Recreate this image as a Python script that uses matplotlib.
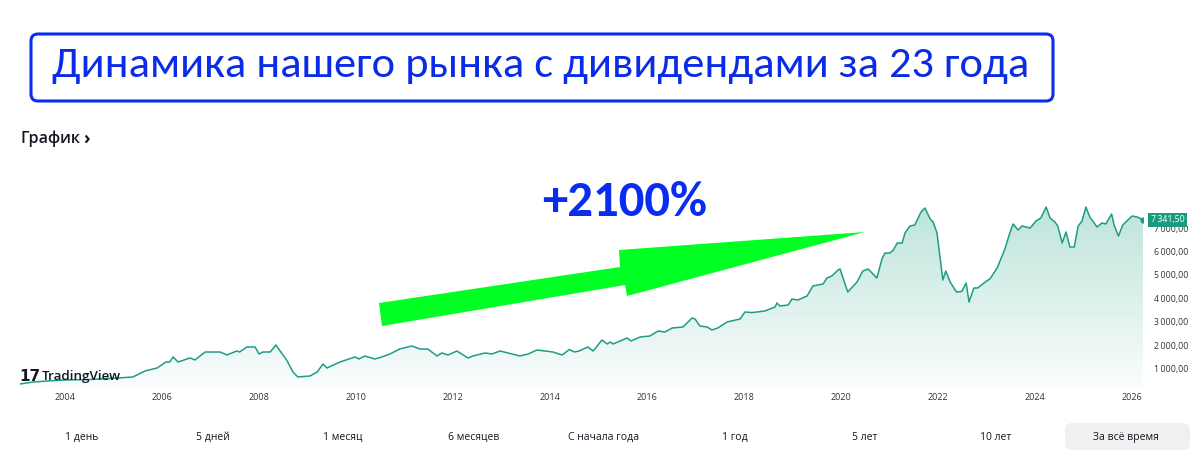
import numpy as np
import matplotlib
matplotlib.use("Agg")
from matplotlib import pyplot as plt
from matplotlib import font_manager
from matplotlib.patches import Polygon, FancyBboxPatch
from matplotlib.transforms import Affine2D
from matplotlib.colors import LinearSegmentedColormap

# index level (total return); x = decimal year
years = [2003.07, 2003.35, 2003.65, 2004.0, 2004.5, 2005.1, 2005.4, 2005.65, 2005.9,
         2006.08, 2006.16, 2006.23, 2006.33, 2006.58, 2006.68, 2006.89, 2007.2, 2007.34,
         2007.54, 2007.6, 2007.75, 2007.92, 2008.0, 2008.08, 2008.23, 2008.35, 2008.45,
         2008.57, 2008.7, 2008.8, 2009.05, 2009.2, 2009.32, 2009.4, 2009.67, 2009.98,
         2010.06, 2010.18, 2010.39, 2010.53, 2010.7, 2010.9, 2011.15, 2011.32, 2011.48,
         2011.67, 2011.77, 2011.9, 2012.08, 2012.31, 2012.41, 2012.66, 2012.8, 2012.97,
         2013.38, 2013.55, 2013.73, 2013.9, 2014.06, 2014.25, 2014.4, 2014.5, 2014.6,
         2014.78, 2014.89, 2015.07, 2015.18, 2015.24, 2015.3, 2015.59, 2015.67, 2015.86,
         2016.06, 2016.23, 2016.37, 2016.52, 2016.74, 2016.93, 2016.99, 2017.09, 2017.24,
         2017.34, 2017.46, 2017.65, 2017.92, 2018.02, 2018.16, 2018.43, 2018.64, 2018.68,
         2018.74, 2018.91, 2018.99, 2019.11, 2019.3, 2019.42, 2019.63, 2019.71, 2019.81,
         2019.94, 2019.98, 2020.14, 2020.33, 2020.45, 2020.56, 2020.74, 2020.85, 2020.91,
         2021.01, 2021.08, 2021.16, 2021.26, 2021.32, 2021.42, 2021.52, 2021.65, 2021.73,
         2021.84, 2021.9, 2021.98, 2022.1, 2022.16, 2022.25, 2022.38, 2022.49, 2022.58,
         2022.64, 2022.74, 2022.82, 2023.0, 2023.07, 2023.22, 2023.38, 2023.48, 2023.55,
         2023.65, 2023.73, 2023.9, 2024.02, 2024.12, 2024.23, 2024.31, 2024.41, 2024.47,
         2024.56, 2024.64, 2024.72, 2024.81, 2024.89, 2024.97, 2025.05, 2025.13, 2025.28,
         2025.38, 2025.46, 2025.58, 2025.63, 2025.72, 2025.81, 2026.0, 2026.11, 2026.23]
index_values = [362, 447, 490, 532, 553, 617, 660, 915, 1043,
                1298, 1298, 1511, 1298, 1468, 1383, 1723, 1723, 1596,
                1766, 1723, 1936, 1936, 1638, 1723, 1723, 2021, 1723,
                1383, 872, 660, 702, 872, 1213, 1043, 1298, 1511,
                1426, 1553, 1426, 1511, 1638, 1851, 1979, 1851, 1851,
                1553, 1681, 1596, 1766, 1468, 1553, 1681, 1638, 1766,
                1553, 1638, 1808, 1766, 1723, 1596, 1830, 1723, 1766,
                1936, 1766, 2234, 2064, 2149, 2064, 2319, 2191, 2362,
                2404, 2617, 2574, 2745, 2787, 3170, 3130, 2830, 2787,
                2660, 2745, 3000, 3128, 3426, 3400, 3468, 3638, 3809,
                3681, 3723, 3979, 3936, 4106, 4532, 4617, 4872, 4957,
                5213, 5255, 4277, 4702, 5170, 5255, 4872, 5723, 5936,
                5936, 6064, 6362, 6362, 6787, 7085, 7128, 7681, 7851,
                7383, 7255, 6787, 4787, 5170, 4702, 4277, 4300, 4660,
                3851, 4447, 4447, 4745, 4830, 5298, 6106, 6787, 7170,
                6915, 7085, 7000, 7298, 7426, 7894, 7426, 7255, 7085,
                6362, 6830, 6191, 6191, 7085, 7298, 7894, 7468, 7043,
                7213, 7170, 7596, 7128, 6660, 7128, 7511, 7468, 7341.50]

year_ticks = [2004, 2006, 2008, 2010, 2012, 2014, 2016, 2018, 2020, 2022, 2024, 2026]
value_ticks = [1000, 2000, 3000, 4000, 5000, 6000, 7000]
ranges = ["1 день", "5 дней", "1 месяц", "6 месяцев", "С начала года",
          "1 год", "5 лет", "10 лет", "За всё время"]

W, H = 1200, 465
fig = plt.figure(figsize=(W / 100, H / 100), dpi=100)
fig.patch.set_facecolor("white")
px = Affine2D().scale(1 / W, -1 / H).translate(0, 1) + fig.transFigure

names = {f.name for f in font_manager.fontManager.ttflist}
if "Carlito" in names:
    title_family, title_size, big_size = "Carlito", 32, 36.5
else:
    title_family, title_size, big_size = "Liberation Sans", 29.5, 28
ui = ["Open Sans", "DejaVu Sans"]


def fmt(v):
    return f"{v:,.2f}".replace(",", "\u2009").replace(".", ",")


# title box
fig.patches.append(FancyBboxPatch((31, 34), 1022, 67, boxstyle="round,pad=0,rounding_size=7",
                                  transform=px, facecolor="white", edgecolor="#0a2cf0",
                                  linewidth=2.2))
fig.text(52, 77, "Динамика нашего рынка с дивидендами за 23 года", transform=px,
         family=title_family, fontsize=title_size, color="#0a2ce8", va="baseline")

fig.text(20, 139, "График", transform=px, family=ui, fontsize=11.5,
         fontweight="semibold", color="#131722", va="center")
fig.text(83, 139, "›", transform=px, family=ui, fontsize=13, fontweight="bold",
         color="#131722", va="center")

# chart
ax = fig.add_axes([20 / W, 1 - 388 / H, 1123 / W, 228 / H])
ax.set_xlim(2003.072, 2026.227)
ax.set_ylim(191, 9894)
for s in ax.spines.values():
    s.set_visible(False)
ax.set_facecolor("none")

line_color = "#1f9c86"
verts = np.column_stack([[years[0]] + years + [years[-1]],
                         [191] + index_values + [191]])
clip = Polygon(verts, closed=True, facecolor="none", edgecolor="none")
ax.add_patch(clip)
cmap = LinearSegmentedColormap.from_list("tvfill", ["#fbfdfd", "#bde4da"])
grad = np.linspace(1, 0, 256).reshape(-1, 1)
im = ax.imshow(grad, extent=[years[0], years[-1], 191, max(index_values)],
               aspect="auto", cmap=cmap, origin="upper", zorder=1)
im.set_clip_path(clip)
ax.plot(years, index_values, color=line_color, linewidth=1.1, zorder=2)
ax.plot(years[-1], index_values[-1], "o", color=line_color, markersize=3.5, zorder=3)

ax.yaxis.tick_right()
ax.set_yticks(value_ticks)
ax.set_yticklabels([fmt(v) for v in value_ticks], family=ui, fontsize=6.3, color="#333333")
ax.set_xticks(year_ticks)
ax.set_xticklabels([str(y) for y in year_ticks], family=ui, fontsize=6.5, color="#333333")
ax.tick_params(axis="y", length=0, pad=8)
ax.tick_params(axis="x", length=0, pad=3.5)

ax.annotate(fmt(index_values[-1]), xy=(1, index_values[-1]),
            xycoords=("axes fraction", "data"), xytext=(5.5, 0), textcoords="offset points",
            ha="left", va="center", family=ui, fontsize=6.3, color="white", zorder=5,
            bbox=dict(boxstyle="square,pad=0.3", facecolor="#1b9a82", edgecolor="none"))

# logo
fig.text(19, 376, "17", transform=px, family=["DejaVu Sans"], fontsize=11,
         fontweight="heavy", color="#131722", va="center")
fig.text(42, 376, "TradingView", transform=px, family=ui, fontsize=9.6,
         fontweight="semibold", color="#131722", va="center")

# annotation
fig.text(625, 202, "+2100%", transform=px, family=[title_family],
         fontsize=big_size, fontweight="bold", color="#0a2cf0", ha="center", va="center")
arrow = Polygon([(379, 303), (620, 267), (619, 250), (865, 232), (627, 296),
                 (625, 285), (382, 326)], closed=True, transform=px,
                facecolor="#00ff22", edgecolor="none")
fig.patches.append(arrow)

# range buttons
fig.patches.append(FancyBboxPatch((1065, 423), 125, 27, boxstyle="round,pad=0,rounding_size=7",
                                  transform=px, facecolor="#f0f0f0", edgecolor="none"))
for i, lab in enumerate(ranges):
    fig.text(82 + i * 130.5, 437, lab, transform=px, family=ui, fontsize=7.5,
             color="#131722", ha="center", va="center")

fig.savefig("out.png", dpi=100)
